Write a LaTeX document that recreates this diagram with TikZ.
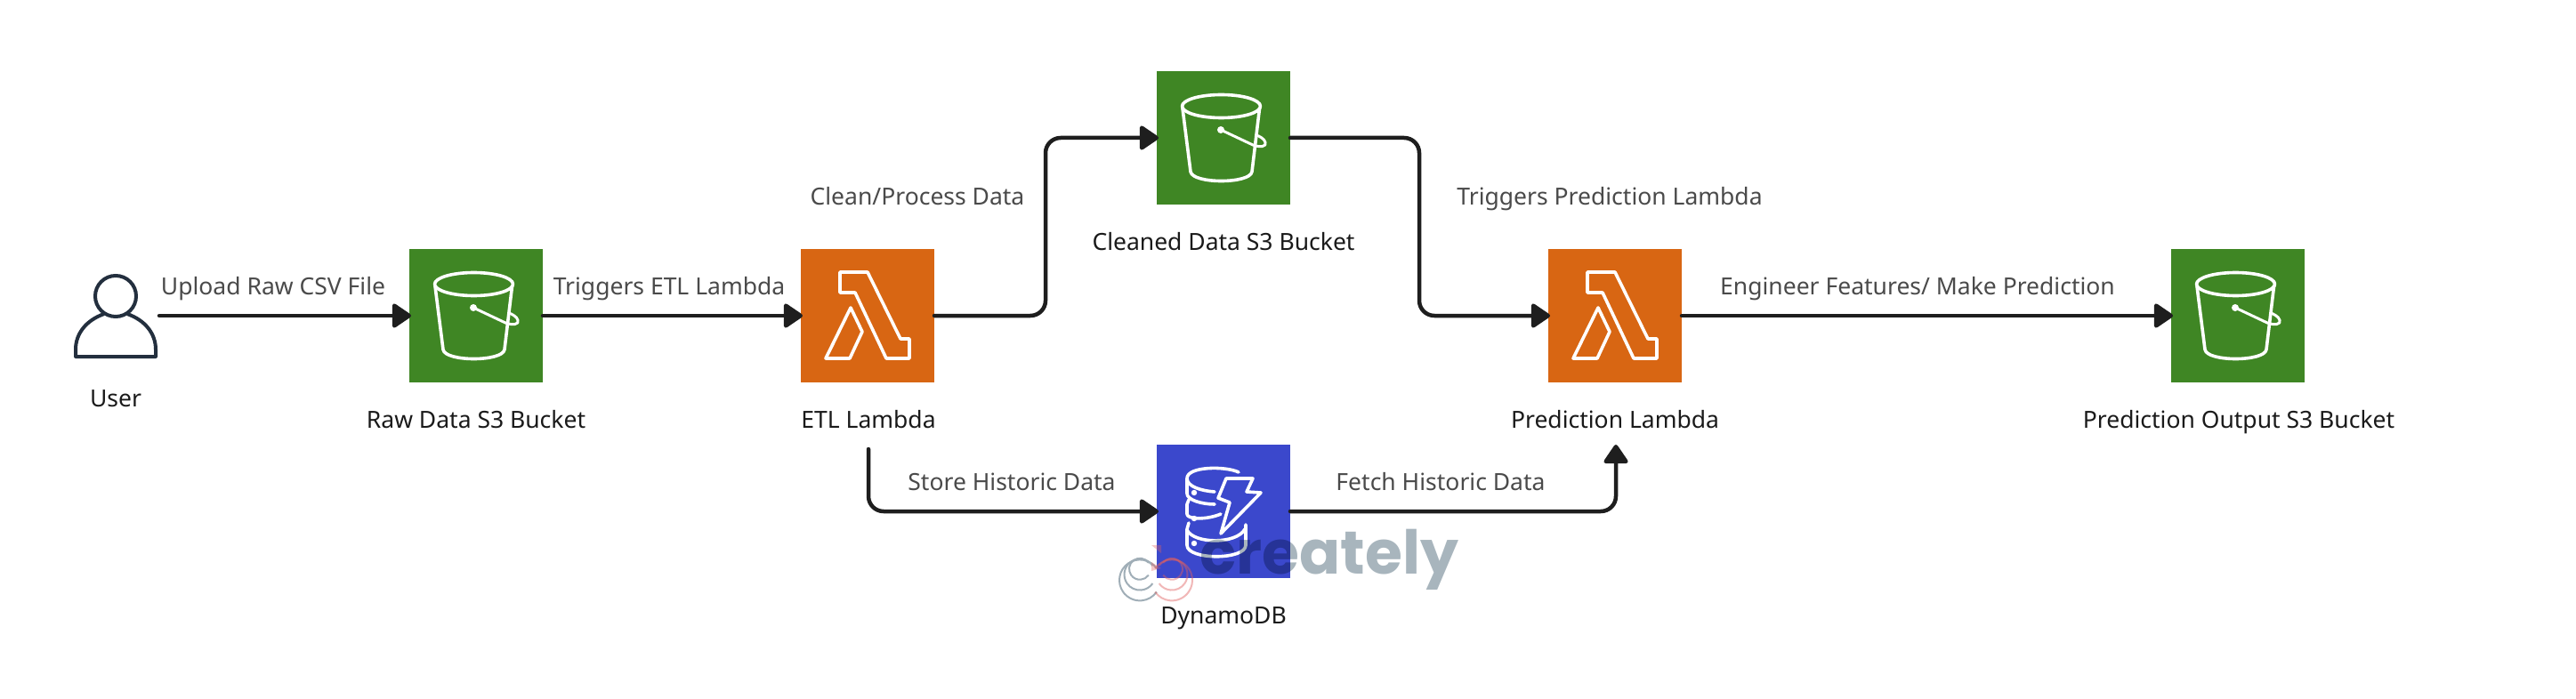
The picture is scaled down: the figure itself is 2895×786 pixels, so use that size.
\documentclass[tikz,border=0pt]{standalone}
\usepackage{fontspec}
\setmainfont{Noto Sans}
\newfontfamily\wmfont{Poppins}
\usetikzlibrary{arrows.meta}
\definecolor{s3green}{HTML}{3F8624}
\definecolor{lambdaorange}{HTML}{D86613}
\definecolor{ddbblue}{HTML}{3B48CC}
\definecolor{edgeink}{HTML}{1E1E1E}
\definecolor{edgetext}{HTML}{4A4A4A}
\definecolor{nodetext}{HTML}{1A1A1A}
\definecolor{userink}{HTML}{232F3E}
\definecolor{wmtext}{HTML}{A8B5BD}
\definecolor{wmring}{HTML}{A0AEB7}
\definecolor{wmred}{HTML}{E06060}
\tikzset{
  x=1pt,y=-1pt,
  iconbox/.style={minimum width=150pt,minimum height=150pt,inner sep=0pt,outer sep=0pt,draw=none},
  s3box/.style={iconbox,fill=s3green},
  lambdabox/.style={iconbox,fill=lambdaorange},
  ddbbox/.style={iconbox,fill=ddbblue},
  nodelabel/.style={anchor=base,inner sep=0pt,text=nodetext,font=\fontsize{26.5}{30}\selectfont},
  edgelabel/.style={anchor=base,inner sep=0pt,text=edgetext,font=\fontsize{26.5}{30}\selectfont},
  conn/.style={draw=edgeink,line width=4.5pt,line cap=round,rounded corners=17pt,
    -{Triangle[length=23pt,width=30pt,round]},shorten >=-2pt},
  iconline/.style={draw=white,line width=3.6pt,line join=round,line cap=round},
  s3icon/.pic={
    \draw[iconline] (72.5,39.5) ellipse [x radius=44,y radius=13];
    \draw[iconline] (29,42) -- (38,113) .. controls (40,127) and (105,127) .. (107,113) -- (115.5,42);
    \fill[white] (72,66) circle (4);
    \draw[iconline,line width=3pt] (72,66) -- (108,83) .. controls (116,86) and (124,85) .. (122,80) .. controls (121,76) and (115,73) .. (112,72);
  },
  lambdaicon/.pic={
    \draw[iconline] (44,26) -- (75,26) -- (112,101) -- (122,101) -- (122,123) -- (96,123) -- (61,49) -- (44,49) -- cycle;
    \draw[iconline] (56,66) -- (69,93) -- (55,123) -- (28,123) -- cycle;
  },
  ddbicon/.pic={
    \draw[iconline] (92,31) .. controls (78,24) and (34,24) .. (34,38) .. controls (34,47) and (50,52) .. (65,53);
    \draw[iconline] (34,38) -- (34,55) .. controls (34,62) and (50,67) .. (65,67);
    \draw[iconline] (36,62) -- (34,67) -- (34,78) .. controls (34,84) and (55,85) .. (72,78);
    \draw[iconline] (36,88) -- (34,95) -- (34,113) .. controls (34,130) and (100,130) .. (100,113) -- (100,90);
    \draw[iconline] (34,96) .. controls (42,112) and (90,112) .. (99,95);
    \draw[ddbblue,line width=9pt,line join=round] (78,38) -- (108,38) -- (101,53) -- (117,54) -- (72,100) -- (82,65) -- (69,60) -- cycle;
    \draw[iconline] (78,38) -- (108,38) -- (101,53) -- (117,54) -- (72,100) -- (82,65) -- (69,60) -- cycle;
    \fill[white] (42,54) circle (3.2) (42,83) circle (3.2) (42,111) circle (3.2);
  },
  usericon/.pic={
    \draw[draw=userink,line width=4pt] (0,-22) circle (23);
    \draw[draw=userink,line width=4pt,line join=round] (-13,-2) .. controls (-33,5) and (-45,20) .. (-45,38) -- (-45,46) -- (45,46) -- (45,38) .. controls (45,20) and (33,5) .. (13,-2);
  },
}
\begin{document}
\begin{tikzpicture}
\useasboundingbox (0,0) rectangle (2895,786);
\fill[white] (0,0) rectangle (2895,786);

% nodes
\node[minimum width=98pt,minimum height=98pt,inner sep=0pt,outer sep=0pt] (user) at (130,355) {};
\node[s3box] (raw) at (535,355) {};
\node[lambdabox] (etl) at (975,355) {};
\node[s3box] (cleaned) at (1375,155) {};
\node[ddbbox] (ddb) at (1375,575) {};
\node[lambdabox] (pred) at (1815,355) {};
\node[s3box] (out) at (2515,355) {};

% icons
\pic at (user.center) {usericon};
\pic at (raw.north west) {s3icon};
\pic at (cleaned.north west) {s3icon};
\pic at (out.north west) {s3icon};
\pic at (etl.north west) {lambdaicon};
\pic at (pred.north west) {lambdaicon};
\pic at (ddb.north west) {ddbicon};

% free ends
\coordinate (etlfoot) at (976,505);
\coordinate (predhead) at (1816,502);

% connectors
\draw[conn] (user.east) -- (raw.west);
\draw[conn] (raw.east) -- (etl.west);
\draw[conn] (etl.east) -- ++(125,0) |- (cleaned.west);
\draw[conn] (cleaned.east) -- ++(145,0) |- (pred.west);
\draw[conn] (etlfoot) |- (ddb.west);
\draw[conn] (ddb.east) -| (predhead);
\draw[conn] (pred.east) -- (out.west);

% labels
\node[nodelabel] (luser) at (130,457) {User};
\node[nodelabel] (lraw) at (535,481) {Raw Data S3 Bucket};
\node[nodelabel] (letl) at (976,481) {ETL Lambda};
\node[nodelabel] (lcleaned) at (1375,281) {Cleaned Data S3 Bucket};
\node[nodelabel] (lddb) at (1375,701) {DynamoDB};
\node[nodelabel] (lpred) at (1815,481) {Prediction Lambda};
\node[nodelabel] (lout) at (2516,481) {Prediction Output S3 Bucket};
\node[edgelabel] (e1) at (307,331) {Upload Raw CSV File};
\node[edgelabel] (e2) at (752,331) {Triggers ETL Lambda};
\node[edgelabel] (e3) at (1031,231) {Clean/Process Data};
\node[edgelabel] (e4) at (1809,231) {Triggers Prediction Lambda};
\node[edgelabel] (e5) at (1137,551) {Store Historic Data};
\node[edgelabel] (e6) at (1619,551) {Fetch Historic Data};
\node[edgelabel] (e7) at (2155,331) {Engineer Features/ Make Prediction};

% watermark
\begin{scope}[blend mode=multiply]
\node[anchor=base west,inner sep=0pt,text=wmtext,font=\wmfont\bfseries\fontsize{68}{70}\selectfont] (wm) at (1348,645) {creately};
\end{scope}
\foreach \r in {23,17.5,12}{
  \draw[wmring,line width=2pt] (1281,626) ++(35:\r) arc[start angle=-35,end angle=-325,radius=\r];
  \draw[wmred,line width=2pt,opacity=.45] (1317,626) ++(145:\r) arc[start angle=-145,end angle=145,radius=\r];
}
\fill[wmred,opacity=.35] (1294,613) -- (1305,613) -- (1305,622) -- cycle;
\fill[wmred,opacity=.35] (1294,632) -- (1305,639) -- (1294,642) -- cycle;
\end{tikzpicture}
\end{document}
